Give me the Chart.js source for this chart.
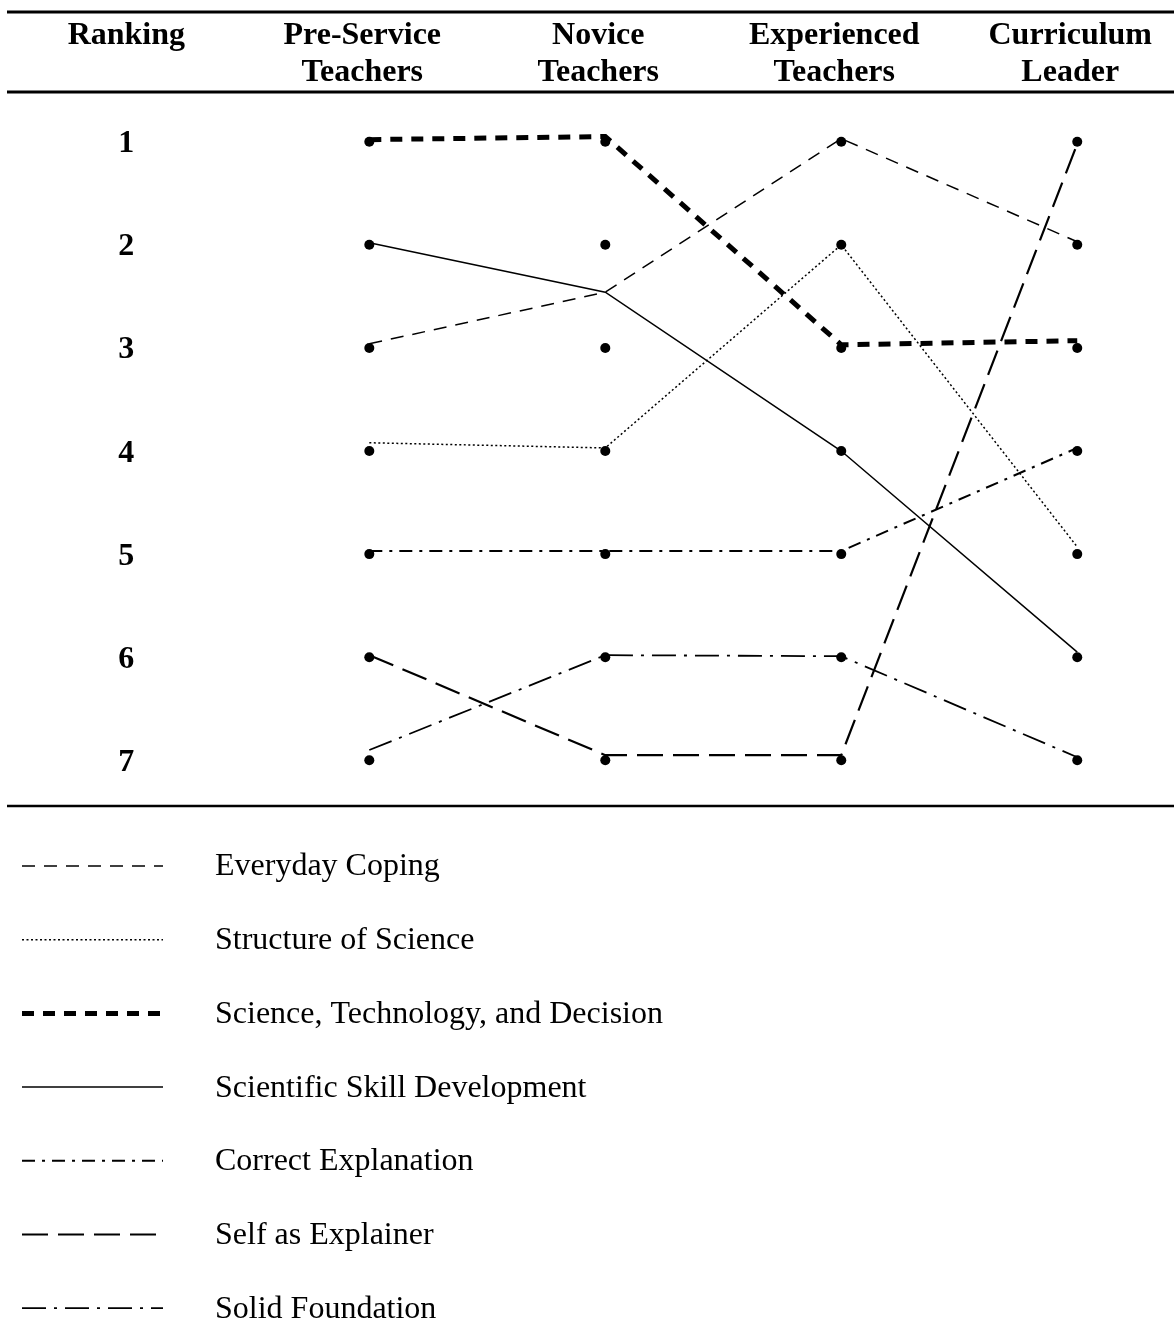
<!DOCTYPE html>
<html>
<head>
<meta charset="utf-8">
<script src="https://cdn.jsdelivr.net/npm/chart.js@4.4.1/dist/chart.umd.min.js"></script>
<style>
html, body { margin: 0; padding: 0; background: #fff; }
#wrap { width: 1174px; height: 1322px; }
</style>
</head>
<body>
<div id="wrap"><canvas id="ranking-chart" width="1174" height="1322"></canvas></div>
<script>
// column headers (first one is the ranking column)
const headerLabels = [['Ranking'], ['Pre-Service', 'Teachers'], ['Novice', 'Teachers'], ['Experienced', 'Teachers'], ['Curriculum', 'Leader']];
const groupPositions = [1, 2, 3, 4];
const rankTicks = [1, 2, 3, 4, 5, 6, 7];

const seriesNames = ['Everyday Coping', 'Structure of Science', 'Science, Technology, and Decision',
    'Scientific Skill Development', 'Correct Explanation', 'Self as Explainer', 'Solid Foundation'];

// rank per group
const everydayCoping     = [2.96, 2.46, 0.97, 1.97];
const structureOfScience = [3.92, 3.97, 2.00, 4.93];
const sciTechDecision    = [0.98, 0.95, 2.97, 2.93];
const skillDevelopment   = [1.98, 2.46, 4.00, 5.95];
const correctExplanation = [4.97, 4.97, 4.97, 3.97];
const selfAsExplainer    = [5.98, 6.95, 6.95, 1.02];
const solidFoundation    = [6.90, 5.98, 5.99, 6.97];

const seriesValues = [everydayCoping, structureOfScience, sciTechDecision, skillDevelopment,
    correctExplanation, selfAsExplainer, solidFoundation];

// line looks
const lineStyles = [
    { width: 1.5, dash: [13, 9] },
    { width: 1.5, dash: [2, 2.5] },
    { width: 5, dash: [12, 9] },
    { width: 1.5, dash: [] },
    { width: 2, dash: [13, 7, 3, 7] },
    { width: 2.2, dash: [26, 10] },
    { width: 1.8, dash: [24, 8, 3, 8] }
];

const serif = '"Liberation Serif", "Times New Roman", serif';

const datasets = [{
    type: 'scatter',
    label: 'dots',
    data: groupPositions.flatMap(g => rankTicks.map(r => ({ x: g, y: r }))),
    pointRadius: 5,
    pointBackgroundColor: '#000',
    pointBorderWidth: 0,
    order: 0
}];

seriesNames.forEach((name, i) => {
    datasets.push({
        type: 'line',
        label: name,
        data: seriesValues[i].map((v, j) => ({ x: groupPositions[j], y: v })),
        borderColor: '#000',
        borderWidth: lineStyles[i].width,
        borderDash: lineStyles[i].dash,
        borderCapStyle: 'butt',
        pointRadius: 0,
        tension: 0,
        fill: false,
        order: 1
    });
});

const tableFrame = {
    id: 'tableFrame',
    afterDraw(chart) {
        const ctx = chart.ctx;
        const xs = chart.scales.x;
        const ys = chart.scales.y;
        ctx.save();
        ctx.fillStyle = '#000';
        ctx.strokeStyle = '#000';

        // horizontal rules
        ctx.setLineDash([]);
        [[12, 3], [92, 3], [806, 2.5]].forEach(([y, w]) => {
            ctx.lineWidth = w;
            ctx.beginPath();
            ctx.moveTo(7, y);
            ctx.lineTo(1174, y);
            ctx.stroke();
        });

        // header
        ctx.font = 'bold 32px ' + serif;
        ctx.textAlign = 'center';
        ctx.textBaseline = 'alphabetic';
        headerLabels.forEach((lines, i) => {
            const x = xs.getPixelForValue(i) - 7;
            lines.forEach((t, k) => ctx.fillText(t, x, 44 + k * 37));
        });

        // ranking numbers
        const rx = xs.getPixelForValue(0) - 7;
        rankTicks.forEach(r => {
            ctx.fillText(String(r), rx, ys.getPixelForValue(r) + 10.5);
        });

        // legend
        ctx.font = '32px ' + serif;
        ctx.textAlign = 'left';
        ctx.textBaseline = 'middle';
        chart.data.datasets.filter(d => d.type === 'line').forEach((d, i) => {
            const y = 866 + i * 73.7;
            ctx.lineWidth = d.borderWidth;
            ctx.setLineDash(d.borderDash);
            ctx.beginPath();
            ctx.moveTo(22, y);
            ctx.lineTo(163, y);
            ctx.stroke();
            ctx.fillText(d.label, 215, y + 1);
        });
        ctx.restore();
    }
};

new Chart(document.getElementById('ranking-chart').getContext('2d'), {
    data: { datasets: datasets },
    options: {
        responsive: false,
        animation: false,
        devicePixelRatio: 1,
        layout: { autoPadding: false, padding: { top: 90, bottom: 516, left: 0, right: 0 } },
        scales: {
            x: { type: 'linear', min: -0.565, max: 4.41, display: false },
            y: { type: 'linear', reverse: true, min: 0.4985, max: 7.443, display: false }
        },
        plugins: {
            legend: { display: false },
            tooltip: { enabled: false }
        }
    },
    plugins: [tableFrame]
});
</script>
</body>
</html>
